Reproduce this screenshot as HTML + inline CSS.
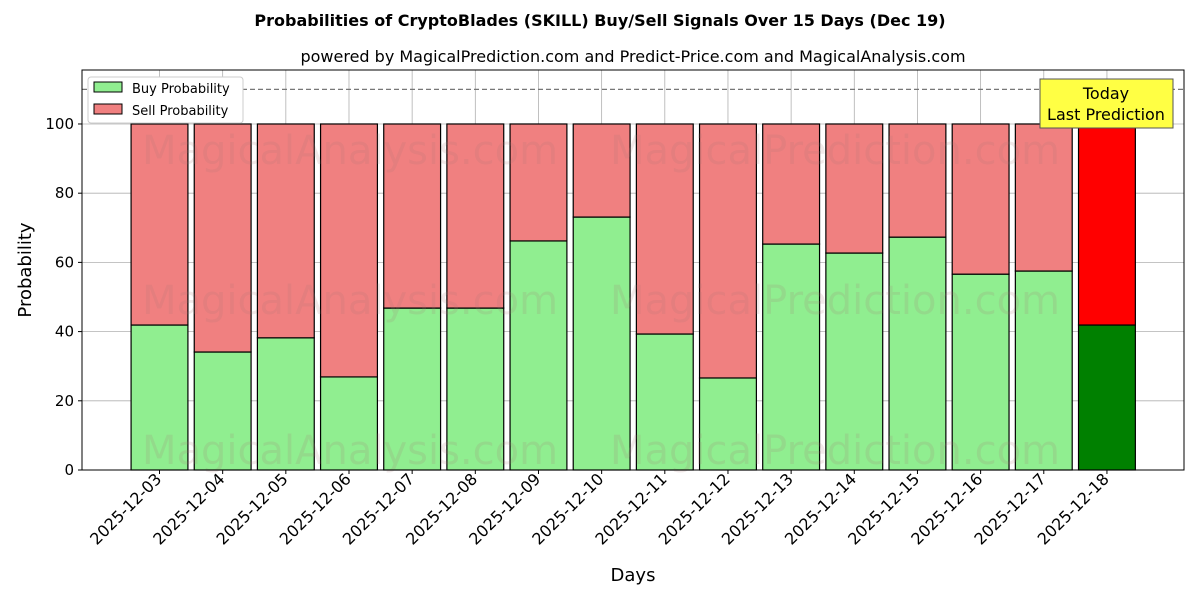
<!DOCTYPE html>
<html><head><meta charset="utf-8"><style>
body{margin:0;background:#fff;font-family:"DejaVu Sans","Liberation Sans",sans-serif}
</style></head><body>
<svg id="chart" width="1200" height="600" xmlns="http://www.w3.org/2000/svg">
<text x="600" y="26" text-anchor="middle" font-size="16" font-weight="bold">Probabilities of CryptoBlades (SKILL) Buy/Sell Signals Over 15 Days (Dec 19)</text>
<text x="633" y="62" text-anchor="middle" font-size="16">powered by MagicalPrediction.com and Predict-Price.com and MagicalAnalysis.com</text>
<g id="plot"></g>
</svg>
<script>
const categories=["2025-12-03","2025-12-04","2025-12-05","2025-12-06","2025-12-07","2025-12-08","2025-12-09","2025-12-10","2025-12-11","2025-12-12","2025-12-13","2025-12-14","2025-12-15","2025-12-16","2025-12-17","2025-12-18"];
const buyValues=[41.9,34.1,38.2,26.9,46.8,46.8,66.2,73.1,39.3,26.6,65.3,62.7,67.3,56.6,57.5,41.9];
const yTicks=[0,20,40,60,80,100];
const refLine=110;
const L=82,R=1184,T=70,B=470;
const xMin=-1.227,xMax=16.22,yMin=0,yMax=115.6;
const xs=i=>L+(i-xMin)/(xMax-xMin)*(R-L);
const ys=v=>B-(v-yMin)/(yMax-yMin)*(B-T);
const NS="http://www.w3.org/2000/svg";
const g=document.getElementById('plot');
function mk(t,a,p){const e=document.createElementNS(NS,t);for(const k in a)e.setAttribute(k,a[k]);(p||g).appendChild(e);return e;}
yTicks.forEach(v=>{const l=mk('line',{x1:L,x2:R,y1:ys(v),y2:ys(v),stroke:'#b0b0b0','stroke-width':0.8});
});
categories.forEach((c,i)=>{const l=mk('line',{x1:xs(i),x2:xs(i),y1:T,y2:B,stroke:'#b0b0b0','stroke-width':0.8});
});
const bw=0.9*(xs(1)-xs(0));
categories.forEach((c,i)=>{const last=i===categories.length-1;const x=xs(i)-bw/2;
const b=mk('rect',{x:x,y:ys(buyValues[i]),width:bw,height:ys(0)-ys(buyValues[i]),fill:last?'#008000':'#90ee90',stroke:'#000','stroke-width':1.2});

const s=mk('rect',{x:x,y:ys(100),width:bw,height:ys(buyValues[i])-ys(100),fill:last?'#ff0000':'#f08080',stroke:'#000','stroke-width':1.2});
});
[[350,150],[835,150],[350,300],[835,300],[350,450],[835,450]].forEach((p,k)=>{const t=mk('text',{x:p[0],y:p[1]+14,'text-anchor':'middle','font-size':40,fill:'rgba(170,120,120,0.16)'});
t.textContent=(k%2==0)?'MagicalAnalysis.com':'MagicalPrediction.com';
});
const dl=mk('line',{x1:L,x2:R,y1:ys(refLine),y2:ys(refLine),stroke:'#777','stroke-width':1.2,'stroke-dasharray':'5,3'});

const fr=mk('rect',{x:L,y:T,width:R-L,height:B-T,fill:'none',stroke:'#000','stroke-width':1});

yTicks.forEach(v=>{mk('line',{x1:L-4,x2:L,y1:ys(v),y2:ys(v),stroke:'#000'});
const t=mk('text',{x:L-8,y:ys(v)+5,'text-anchor':'end','font-size':15});t.textContent=v;
});
categories.forEach((c,i)=>{mk('line',{x1:xs(i),x2:xs(i),y1:B,y2:B+4,stroke:'#000'});
const ax=xs(i)+3,ay=B+10;
const t=mk('text',{x:ax,y:ay,'text-anchor':'end','font-size':16,transform:`rotate(-45 ${ax} ${ay})`});t.textContent=c;
});
const xt=mk('text',{x:(L+R)/2,y:581,'text-anchor':'middle','font-size':18});xt.textContent='Days';

const yt=mk('text',{x:31,y:(T+B)/2,'text-anchor':'middle','font-size':18,transform:`rotate(-90 31 ${(T+B)/2})`});yt.textContent='Probability';

const lg=mk('g',{});
mk('rect',{x:88,y:77,width:155,height:46,fill:'#fff',stroke:'#ccc',rx:3},lg);
[['Buy Probability','#90ee90',82],['Sell Probability','#f08080',104]].forEach(r=>{
mk('rect',{x:94,y:r[2],width:28,height:10,fill:r[1],stroke:'#000'},lg);
const t=mk('text',{x:132,y:r[2]+11,'font-size':13},lg);t.textContent=r[0];
});
const tb=mk('g',{});
mk('rect',{x:1040,y:79,width:133,height:49,fill:'#ffff44',stroke:'#555'},tb);
const t1=mk('text',{x:1106,y:99,'text-anchor':'middle','font-size':16},tb);t1.textContent='Today';
const t2=mk('text',{x:1106,y:120,'text-anchor':'middle','font-size':16},tb);t2.textContent='Last Prediction';
</script>
</body></html>
